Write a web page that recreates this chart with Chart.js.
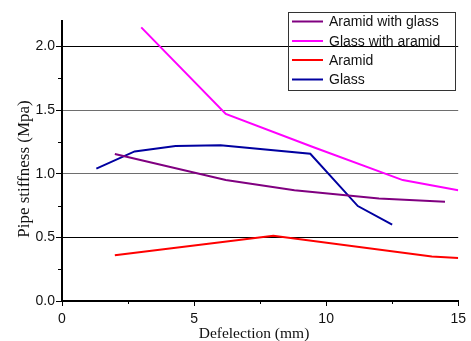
<!DOCTYPE html>
<html>
<head>
<meta charset="utf-8">
<script src="https://cdn.jsdelivr.net/npm/chart.js@4.4.0/dist/chart.umd.min.js"></script>
<style>
  html, body { margin: 0; padding: 0; background: #fff; }
  #wrap { width: 471px; height: 341px; }
</style>
</head>
<body>
<div id="wrap"><canvas id="stiffChart" width="471" height="341"></canvas></div>
<script>
// values
const seriesNames = ['Aramid with glass', 'Glass with aramid', 'Aramid', 'Glass'];
const seriesColors = ['#800080', '#ff00ff', '#ff0000', '#0000a0'];

const aramidGlassX = [2.0, 6.2, 8.8, 12.0, 14.5];
const aramidGlassY = [1.155, 0.95, 0.87, 0.805, 0.78];

const glassAramidX = [3.0, 6.2, 9.5, 12.9, 15.0];
const glassAramidY = [2.15, 1.47, 1.21, 0.95, 0.87];

const aramidX = [2.0, 8.0, 14.0, 15.0];
const aramidY = [0.36, 0.513, 0.35, 0.338];

const glassX = [1.3, 2.75, 4.3, 6.0, 9.4, 11.2, 12.5];
const glassY = [1.04, 1.175, 1.217, 1.223, 1.157, 0.746, 0.60];

const yTicks = [0, 0.5, 1.0, 1.5, 2.0];
const yMinorTicks = [0.25, 0.75, 1.25, 1.75];
const xTicks = [0, 5, 10, 15];
const xMinorTicks = [2.5, 7.5, 12.5];

const xTitle = 'Defelection (mm)';
const yTitle = 'Pipe stiffness (Mpa)';

const toPoints = (xs, ys) => xs.map((x, i) => ({ x: x, y: ys[i] }));
const allX = [aramidGlassX, glassAramidX, aramidX, glassX];
const allY = [aramidGlassY, glassAramidY, aramidY, glassY];

const serif = '"Liberation Serif", "Times New Roman", serif';
const sans = '"Liberation Sans", Arial, sans-serif';

const minorTicks = {
    id: 'minorTicks',
    afterDraw(chart) {
        const ctx = chart.ctx;
        const xs = chart.scales.x, ys = chart.scales.y;
        ctx.save();
        ctx.strokeStyle = '#000';
        ctx.lineWidth = 1;
        yMinorTicks.forEach(v => {
            const p = Math.round(ys.getPixelForValue(v)) + 0.5;
            ctx.beginPath();
            ctx.moveTo(xs.left - 4, p);
            ctx.lineTo(xs.left, p);
            ctx.stroke();
        });
        xMinorTicks.forEach(v => {
            const p = Math.round(xs.getPixelForValue(v)) + 0.5;
            ctx.beginPath();
            ctx.moveTo(p, ys.bottom);
            ctx.lineTo(p, ys.bottom + 3);
            ctx.stroke();
        });
        ctx.restore();
    }
};

const axisTitles = {
    id: 'axisTitles',
    afterDraw(chart) {
        const ctx = chart.ctx;
        ctx.save();
        ctx.fillStyle = '#111';
        ctx.textAlign = 'center';
        ctx.font = '15.5px ' + serif;
        ctx.textBaseline = 'alphabetic';
        ctx.fillText(xTitle, 254, 338);
        ctx.translate(24.5, 169);
        ctx.rotate(-Math.PI / 2);
        ctx.font = '17px ' + serif;
        ctx.textBaseline = 'middle';
        ctx.fillText(yTitle, 0, 0);
        ctx.restore();
    }
};

const boxLegend = {
    id: 'boxLegend',
    afterDraw(chart) {
        const ctx = chart.ctx;
        ctx.save();
        ctx.strokeStyle = '#333';
        ctx.lineWidth = 1;
        ctx.strokeRect(288.5, 12.5, 167, 78);
        ctx.font = '14px ' + sans;
        ctx.textBaseline = 'middle';
        ctx.fillStyle = '#111';
        const rowY = [21.5, 41, 60, 79.5];
        chart.data.datasets.forEach((ds, i) => {
            ctx.strokeStyle = ds.borderColor;
            ctx.lineWidth = 2;
            ctx.beginPath();
            ctx.moveTo(292, rowY[i]);
            ctx.lineTo(323, rowY[i]);
            ctx.stroke();
            ctx.fillText(ds.label, 329, rowY[i] + 1);
        });
        ctx.restore();
    }
};

new Chart(document.getElementById('stiffChart').getContext('2d'), {
    type: 'line',
    data: {
        datasets: seriesNames.map((name, i) => ({
            label: name,
            data: toPoints(allX[i], allY[i]),
            borderColor: seriesColors[i],
            backgroundColor: seriesColors[i],
            borderWidth: 2,
            pointRadius: 0,
            tension: 0,
            fill: false
        }))
    },
    options: {
        responsive: false,
        animation: false,
        layout: { padding: { left: 0, right: 11, top: 21, bottom: 0 } },
        plugins: {
            legend: { display: false },
            tooltip: { enabled: false }
        },
        scales: {
            x: {
                type: 'linear',
                min: 0,
                max: 15,
                afterFit: s => { s.height = 40; },
                afterBuildTicks: s => { s.ticks = xTicks.map(v => ({ value: v })); },
                border: { display: true, color: '#000', width: 2 },
                grid: { drawOnChartArea: false, drawTicks: true, tickLength: 5, tickColor: '#000' },
                ticks: {
                    color: '#111',
                    padding: 5,
                    maxRotation: 0,
                    font: { family: sans, size: 14 }
                }
            },
            y: {
                min: 0,
                max: 2.2,
                afterFit: s => { s.width = 62; },
                afterBuildTicks: s => { s.ticks = yTicks.map(v => ({ value: v })); },
                border: { display: true, color: '#000', width: 2 },
                grid: {
                    color: c => (c.tick && (c.tick.value === 1 || c.tick.value === 1.5)) ? '#6e6e6e' : '#000',
                    lineWidth: 1,
                    drawTicks: true,
                    tickLength: 6,
                    tickColor: '#000'
                },
                ticks: {
                    color: '#111',
                    padding: 1,
                    callback: v => v.toFixed(1),
                    font: { family: sans, size: 14 }
                }
            }
        }
    },
    plugins: [minorTicks, axisTitles, boxLegend]
});
</script>
</body>
</html>
